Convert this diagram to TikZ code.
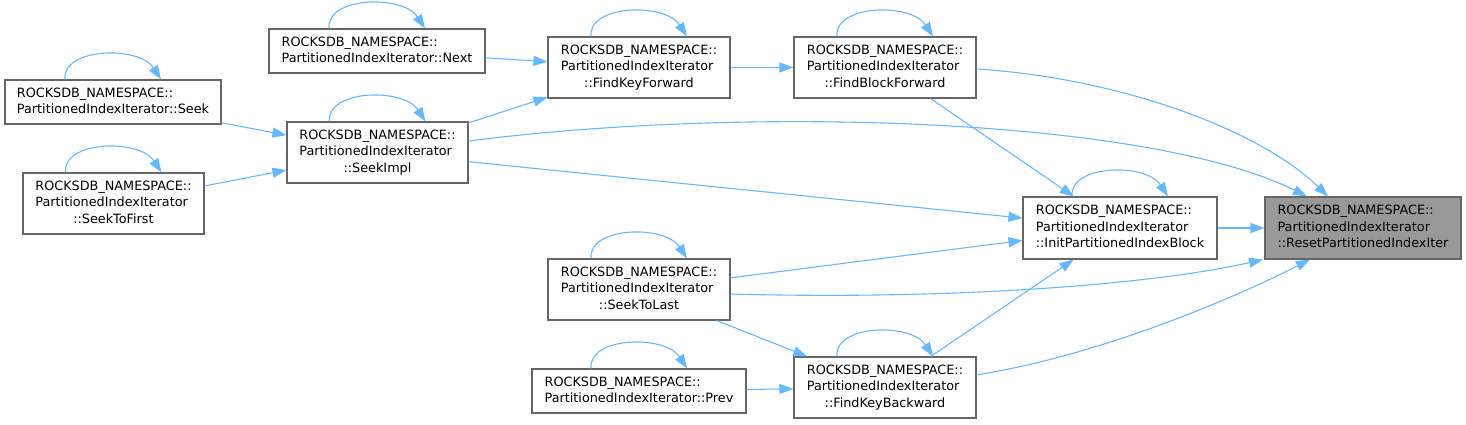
\documentclass[tikz,border=0pt]{standalone}
\usepackage{fontspec}
\setmainfont{DejaVu Sans}
\usetikzlibrary{arrows.meta}
\definecolor{edgeblue}{HTML}{63B8FF}
\definecolor{boxgray}{HTML}{666666}
\definecolor{hilite}{HTML}{999999}
% three line label: namespace, class, centred member
\newcommand{\fnname}[1]{\begin{tabular}{@{}l@{}}ROCKSDB\_NAMESPACE::\\PartitionedIndexIterator\\\multicolumn{1}{@{}c@{}}{#1}\end{tabular}}
% two line label
\newcommand{\fnshort}[1]{\begin{tabular}{@{}l@{}}ROCKSDB\_NAMESPACE::\\PartitionedIndexIterator::#1\end{tabular}}
\begin{document}
\begin{tikzpicture}[
  x=1pt,y=-1pt,
  fn/.style={draw=boxgray,line width=1.1pt,fill=white,inner sep=0pt,
    font=\fontsize{12.8pt}{16.5pt}\selectfont},
  calls/.style={draw=edgeblue,line width=1.1pt,-{Triangle[length=14pt,width=10pt]}}
]
  \useasboundingbox (0,0) rectangle (1466,424);

  \node[fn,minimum width=216pt,minimum height=44pt] (seek)   at (113,102)   {\fnshort{Seek}};
  \node[fn,minimum width=181pt,minimum height=61pt] (sfirst) at (113.5,203.5) {\fnname{::SeekToFirst}};
  \node[fn,minimum width=181pt,minimum height=61pt] (simpl)  at (377.5,152.5) {\fnname{::SeekImpl}};
  \node[fn,minimum width=216pt,minimum height=44pt] (next)   at (377,51)    {\fnshort{Next}};
  \node[fn,minimum width=182pt,minimum height=61pt] (fkf)    at (639,67.5)  {\fnname{::FindKeyForward}};
  \node[fn,minimum width=182pt,minimum height=61pt] (fbf)    at (885,67.5)  {\fnname{::FindBlockForward}};
  \node[fn,minimum width=194pt,minimum height=62pt] (init)   at (1120,228)  {\fnname{::InitPartitionedIndexBlock}};
  \node[fn,minimum width=196pt,minimum height=62pt,fill=hilite] (reset) at (1363,228) {\fnname{::ResetPartitionedIndexIter}};
  \node[fn,minimum width=182pt,minimum height=61pt] (slast)  at (639,289.5) {\fnname{::SeekToLast}};
  \node[fn,minimum width=214pt,minimum height=44pt] (prev)   at (639,391)   {\fnshort{Prev}};
  \node[fn,minimum width=182pt,minimum height=61pt] (fkb)    at (885,387.5) {\fnname{::FindKeyBackward}};

  % recursive calls
  \foreach \n in {seek,sfirst,simpl,next,fkf,fbf,init,slast,prev,fkb}
    \draw[calls] ([xshift=-48pt]\n.north) .. controls +(-3pt,32pt) and +(-22pt,34pt) .. ([xshift=48pt]\n.north);

  \draw[calls] (seek) -- (simpl);
  \draw[calls] (sfirst) -- (simpl);
  \draw[calls] (simpl) -- (fkf);
  \draw[calls] (next) -- (fkf);
  \draw[calls] (fkf) -- (fbf);
  \draw[calls] (fbf) -- (init);
  \draw[calls] (simpl) -- (init);
  \draw[calls] (init) -- (reset);
  \draw[calls] (slast) -- (init);
  \draw[calls] (slast) -- (fkb);
  \draw[calls] (prev) -- (fkb);
  \draw[calls] (fkb) -- (init);

  \draw[calls] ([yshift=-1.5pt]fbf.east) .. controls (1120,78) and (1260,130) .. ([xshift=-35pt]reset.north);
  \draw[calls] ([yshift=11.5pt]simpl.east) .. controls (750,105) and (1150,118) .. ([xshift=-56pt]reset.north);
  \draw[calls] ([yshift=-4.5pt]slast.east) .. controls (950,300) and (1150,285) .. ([xshift=-100pt]reset.south);
  \draw[calls] ([yshift=12.5pt]fkb.east) .. controls (1100,355) and (1230,300) .. ([xshift=-53pt]reset.south);
\end{tikzpicture}
\end{document}
